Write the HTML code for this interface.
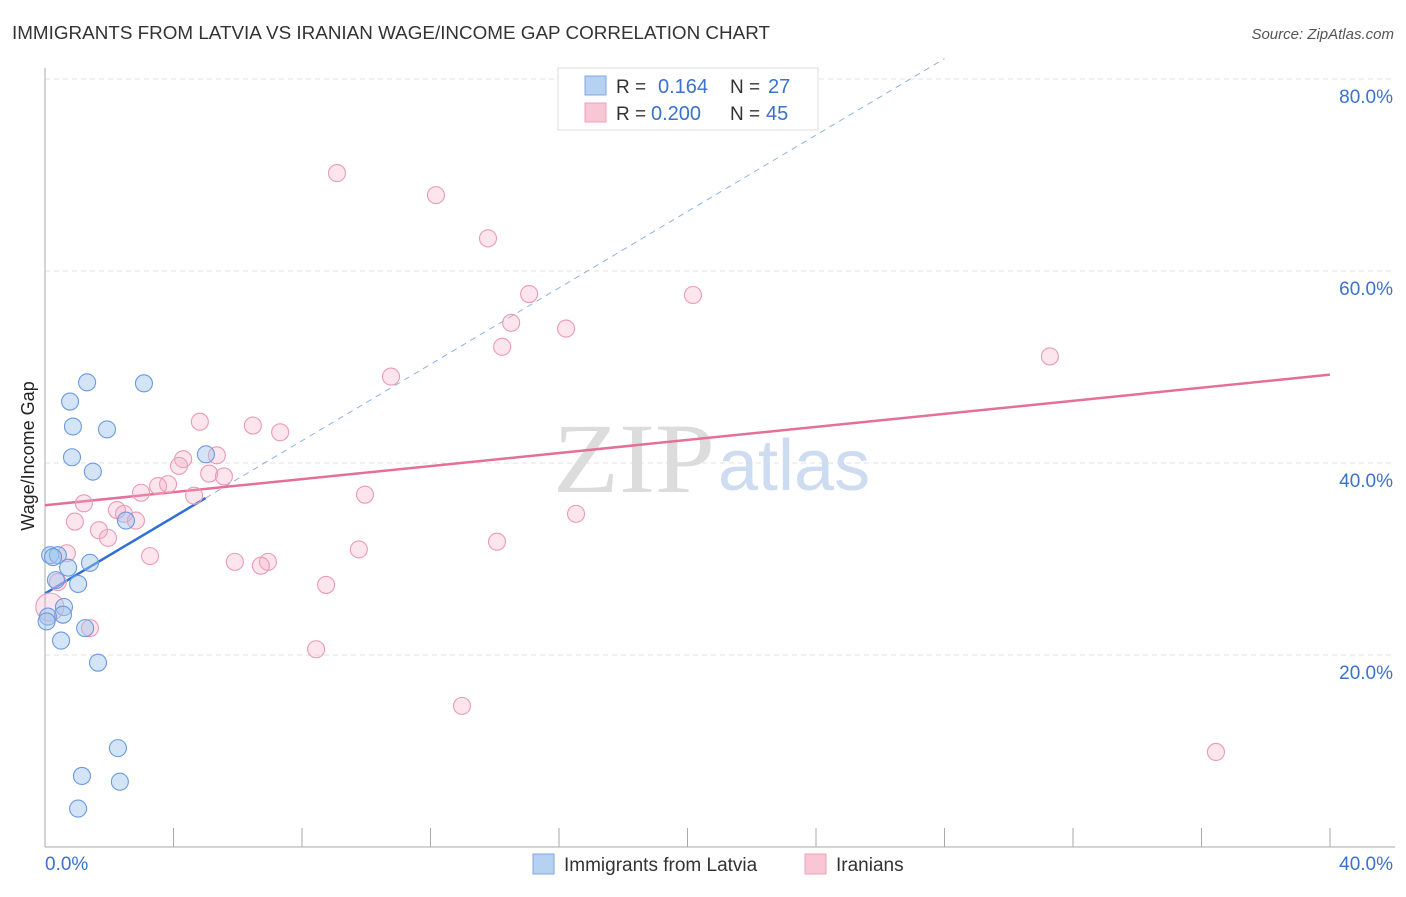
<!DOCTYPE html>
<html><head><meta charset="utf-8"><style>
body{margin:0;background:#fff;font-family:"Liberation Sans",sans-serif;}
</style></head><body>
<svg id="chart" width="1406" height="892" xmlns="http://www.w3.org/2000/svg" font-family="Liberation Sans, sans-serif">
<text x="12" y="39" font-size="18" fill="#333" textLength="758" lengthAdjust="spacingAndGlyphs">IMMIGRANTS FROM LATVIA VS IRANIAN WAGE/INCOME GAP CORRELATION CHART</text>
<text x="1394" y="39" font-size="15" fill="#555" font-style="italic" text-anchor="end">Source: ZipAtlas.com</text>
<text x="34" y="456" font-size="18" fill="#222" transform="rotate(-90 34 456)" text-anchor="middle">Wage/Income Gap</text>
<g id="grid"></g>
<g id="axes"></g>
<text x="553" y="492" font-size="100" fill="#dcdcdc" font-family="Liberation Serif, serif" textLength="162" lengthAdjust="spacingAndGlyphs">ZIP</text>
<text x="718" y="490" font-size="72" fill="#cddcf0">atlas</text>
<g id="lines"></g>
<g id="pts"></g>
<g>
<rect x="558" y="68" width="260" height="62" fill="#fff" stroke="#ddd"/>
<rect x="585" y="76" width="21" height="19" fill="#b7d1f3" stroke="#7fa8e0"/>
<rect x="585" y="103" width="21" height="19" fill="#f9c6d5" stroke="#eda0b7"/>
<text x="616" y="93" font-size="19" fill="#333">R = </text><text x="658" y="93" font-size="20" fill="#3a72cc">0.164</text>
<text x="730" y="93" font-size="19" fill="#333">N = </text><text x="768" y="93" font-size="20" fill="#3a72cc">27</text>
<text x="616" y="120" font-size="19" fill="#333">R = </text><text x="651" y="120" font-size="20" fill="#3a72cc">0.200</text>
<text x="730" y="120" font-size="19" fill="#333">N = </text><text x="766" y="120" font-size="20" fill="#3a72cc">45</text>
</g>
<g>
<rect x="533" y="854" width="21" height="20" fill="#b7d1f3" stroke="#7fa8e0"/>
<text x="564" y="871" font-size="19" fill="#333">Immigrants from Latvia</text>
<rect x="805" y="854" width="21" height="20" fill="#f9c6d5" stroke="#eda0b7"/>
<text x="836" y="871" font-size="19" fill="#333">Iranians</text>
</g>
</svg>
<script>
const yTicks=[20,40,60,80];
const yTickLabels=["20.0%","40.0%","60.0%","80.0%"];
const xTicks=[0,4,8,12,16,20,24,28,32,36,40];
const latviaX=[1.31,3.08,0.78,0.87,1.93,0.84,1.49,5.01,2.52,0.16,0.40,1.40,0.72,0.34,1.03,0.59,0.56,0.09,1.25,0.50,1.65,2.27,1.15,2.33,1.03,0.05,0.25];
const latviaY=[48.4,48.3,46.4,43.8,43.5,40.6,39.1,40.9,34.0,30.4,30.4,29.6,29.1,27.8,27.4,25.0,24.2,24.0,22.8,21.5,19.2,10.3,7.4,6.8,4.0,23.5,30.2];
const iranX=[9.09,12.17,13.79,15.07,20.17,14.51,16.22,14.23,10.77,31.28,4.82,6.47,7.32,4.30,5.35,4.17,5.11,5.57,3.83,3.52,2.99,4.64,9.96,1.21,0.93,2.24,2.46,2.83,1.68,1.96,0.68,3.27,9.77,14.07,16.53,5.91,6.94,6.72,8.75,0.40,1.40,8.44,12.98,36.45,0.15];
const iranY=[70.2,67.9,63.4,57.6,57.5,54.6,54.0,52.1,49.0,51.1,44.3,43.9,43.2,40.4,40.8,39.7,38.9,38.6,37.8,37.6,36.9,36.6,36.7,35.8,33.9,35.1,34.7,34.0,33.0,32.2,30.6,30.3,31.0,31.8,34.7,29.7,29.7,29.3,27.3,27.6,22.8,20.6,14.7,9.9,25.0];
const latviaTrend=[26.4,1.99];
const iranTrend=[35.6,0.34];
const NS="http://www.w3.org/2000/svg";
const sx=v=>45+v*32.125, sy=v=>847-v*9.6;
function mk(tag,attrs,parent){const e=document.createElementNS(NS,tag);for(const k in attrs)e.setAttribute(k,attrs[k]);document.getElementById(parent).appendChild(e);return e;}
yTicks.forEach((t,i)=>{
 const l=mk('line',{x1:45,x2:1395,y1:sy(t),y2:sy(t),stroke:'#e2e2e2','stroke-dasharray':'5,4'},'grid');
 
 
 const tx=mk('text',{x:1393,y:sy(t)+24,'font-size':19,fill:'#3a72cc','text-anchor':'end'},'grid');
 tx.textContent=yTickLabels[i];
 
 
});
mk('line',{x1:45,x2:45,y1:68,y2:847,stroke:'#aaa'},'axes');
mk('line',{x1:45,x2:1395,y1:847,y2:847,stroke:'#aaa'},'axes');
xTicks.forEach(t=>{const l=mk('line',{x1:sx(t),x2:sx(t),y1:828,y2:847,stroke:'#aaa'},'axes');
 
 });
const x0=mk('text',{x:45,y:870,'font-size':19,fill:'#3a72cc'},'axes');x0.textContent='0.0%';


const x1=mk('text',{x:1393,y:870,'font-size':19,fill:'#3a72cc','text-anchor':'end'},'axes');x1.textContent='40.0%';


iranX.forEach((x,i)=>{const c=mk('circle',{cx:sx(x),cy:sy(iranY[i]),r:i==iranX.length-1?14:8.5,fill:'rgba(246,170,195,0.3)',stroke:'#eb9ab4','stroke-width':1.1},'pts');
 
 });
latviaX.forEach((x,i)=>{const c=mk('circle',{cx:sx(x),cy:sy(latviaY[i]),r:8.5,fill:'rgba(160,195,238,0.45)',stroke:'#6a9be0','stroke-width':1.1},'pts');
 
 });
const dl=mk('line',{x1:sx(5),y1:sy(latviaTrend[0]+latviaTrend[1]*5),x2:sx(28),y2:sy(latviaTrend[0]+latviaTrend[1]*28),stroke:'#8fb2e6','stroke-width':1,'stroke-dasharray':'6,5'},'lines');


const bl=mk('line',{x1:sx(0),y1:sy(latviaTrend[0]),x2:sx(5),y2:sy(latviaTrend[0]+latviaTrend[1]*5),stroke:'#2f6fd6','stroke-width':2.5},'lines');


const pl=mk('line',{x1:sx(0),y1:sy(iranTrend[0]),x2:sx(40),y2:sy(iranTrend[0]+iranTrend[1]*40),stroke:'#e4709a','stroke-width':2.5},'lines');


</script>
</body></html>
